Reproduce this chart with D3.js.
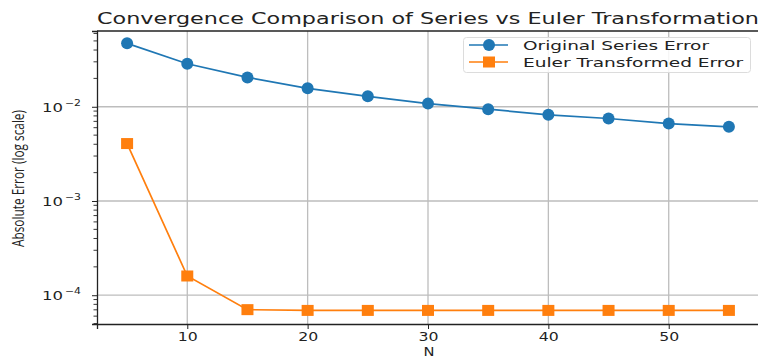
<!DOCTYPE html>
<html><head><meta charset="utf-8">
<script src="https://cdn.jsdelivr.net/npm/d3@7"></script>
<style>body{margin:0;background:#fff}svg{display:block}</style>
</head><body>
<svg id="c" width="758" height="359"></svg>
<script>
const N = [5, 10, 15, 20, 25, 30, 35, 40, 45, 50, 55];
const originalError = [0.0471, 0.0286, 0.0205, 0.0157, 0.0129, 0.0108, 0.00943, 0.00822, 0.00751, 0.00664, 0.00612];
const eulerError = [0.00407, 0.000160, 0.0000703, 0.0000690, 0.0000690, 0.0000690, 0.0000690, 0.0000690, 0.0000690, 0.0000690, 0.0000690];
const xTicks = [10, 20, 30, 40, 50];
const yTicks = [1e-4, 1e-3, 1e-2];
const yTickExp = ["\u22124", "\u22123", "\u22122"];
const seriesNames = ["Original Series Error", "Euler Transformed Error"];
const colors = ["#1f77b4", "#ff7f0e"];

const svg = d3.select("#c");
const L = 97, R = 759, T = 31, B = 324;
const x = d3.scaleLinear().domain([2.5, 57.5]).range([L, R]);
const y = d3.scaleLog().domain([4.95e-5, 0.0637]).range([B, T]);

function stretchTo(sel, w) { sel.attr("textLength", w).attr("lengthAdjust", "spacingAndGlyphs"); }

// grid
const g = svg.append("g");
g.selectAll(".gx").data(xTicks).join("line")
  .attr("x1", d => x(d)).attr("x2", d => x(d)).attr("y1", T).attr("y2", B)
  .attr("stroke", "#bdbdbd").attr("stroke-width", 1.3);
g.selectAll(".gy").data(yTicks).join("line")
  .attr("x1", L).attr("x2", R).attr("y1", d => y(d)).attr("y2", d => y(d))
  .attr("stroke", "#bdbdbd").attr("stroke-width", 1.3);

// minor ticks
const minor = [];
for (let e = -5; e <= -2; e++) for (let m = 2; m <= 9; m++) {
  const v = m * Math.pow(10, e);
  if (v >= y.domain()[0] && v <= y.domain()[1]) minor.push(v);
}
svg.append("g").selectAll("line").data(minor).join("line")
  .attr("x1", L - 3.5).attr("x2", L).attr("y1", d => y(d)).attr("y2", d => y(d))
  .attr("stroke", "#222").attr("stroke-width", 0.9);

// axes
const xAxis = svg.append("g").attr("transform", `translate(0,${B})`)
  .call(d3.axisBottom(x).tickValues(xTicks).tickSize(5).tickPadding(4).tickFormat(d3.format("d")));
xAxis.select(".domain").attr("stroke", "#222").attr("stroke-width", 1.3);
xAxis.selectAll(".tick line").attr("stroke", "#222");
xAxis.selectAll(".tick text").attr("font-family", "DejaVu Sans").attr("font-size", 11.5).attr("fill", "#222")
  .call(stretchTo, 20);

const yAxis = svg.append("g").attr("transform", `translate(${L},0)`)
  .call(d3.axisLeft(y).tickValues(yTicks).tickSize(5).tickFormat(""));
yAxis.select(".domain").attr("stroke", "#222").attr("stroke-width", 1.3);
yAxis.selectAll(".tick line").attr("stroke", "#222");
const yl = svg.append("g").selectAll("g").data(yTicks).join("g")
  .attr("transform", d => `translate(0,${y(d)})`);
yl.append("text").attr("x", 42).attr("y", 5).attr("font-family", "DejaVu Sans").attr("font-size", 11.5)
  .attr("fill", "#222").text("10").call(stretchTo, 21);
yl.append("text").attr("x", 65).attr("y", -1).attr("font-family", "DejaVu Sans").attr("font-size", 8.5)
  .attr("fill", "#222").text((d, i) => yTickExp[i]).call(stretchTo, 16);

// top spine
svg.append("line").attr("x1", L).attr("x2", R).attr("y1", T).attr("y2", T).attr("stroke", "#222").attr("stroke-width", 1.3);

// series
const datasets = [originalError, eulerError];
const line = d3.line().x((d, i) => x(N[i])).y(d => y(d));
datasets.forEach((ds, k) => {
  svg.append("path").datum(ds).attr("d", line).attr("fill", "none")
    .attr("stroke", colors[k]).attr("stroke-width", 1.7);
});
svg.append("g").selectAll("circle").data(originalError).join("circle")
  .attr("cx", (d, i) => x(N[i])).attr("cy", d => y(d)).attr("r", 6).attr("fill", colors[0]);
svg.append("g").selectAll("rect").data(eulerError).join("rect")
  .attr("x", (d, i) => x(N[i]) - 6).attr("y", d => y(d) - 5.5).attr("width", 12).attr("height", 11).attr("fill", colors[1]);

// title & labels
svg.append("text").attr("x", 428).attr("y", 24).attr("text-anchor", "middle")
  .attr("font-family", "DejaVu Sans").attr("font-size", 15).attr("fill", "#222")
  .text("Convergence Comparison of Series vs Euler Transformation").call(stretchTo, 662);
svg.append("text").attr("x", 429).attr("y", 356).attr("text-anchor", "middle")
  .attr("font-family", "DejaVu Sans").attr("font-size", 11.5).attr("fill", "#222").text("N").call(stretchTo, 11);
svg.append("text").attr("transform", "translate(24,178.5) rotate(-90)").attr("text-anchor", "middle")
  .attr("font-family", "Open Sans").attr("font-size", 15.5).attr("fill", "#222")
  .text("Absolute Error (log scale)").call(stretchTo, 137);

// legend
const lg = svg.append("g");
lg.append("rect").attr("x", 463.5).attr("y", 37.5).attr("width", 287).attr("height", 35).attr("rx", 3)
  .attr("fill", "#fff").attr("fill-opacity", 0.85).attr("stroke", "#dcdcdc");
const rowsY = [45, 62];
const widths = [186, 220];
seriesNames.forEach((name, k) => {
  lg.append("line").attr("x1", 469).attr("x2", 508).attr("y1", rowsY[k]).attr("y2", rowsY[k])
    .attr("stroke", colors[k]).attr("stroke-width", 1.7);
  if (k === 0) lg.append("circle").attr("cx", 489).attr("cy", rowsY[k]).attr("r", 6).attr("fill", colors[k]);
  else lg.append("rect").attr("x", 483).attr("y", rowsY[k] - 5.5).attr("width", 12).attr("height", 11).attr("fill", colors[k]);
  lg.append("text").attr("x", 523).attr("y", rowsY[k] + 4.5).attr("font-family", "DejaVu Sans")
    .attr("font-size", 12).attr("fill", "#222").text(name).call(stretchTo, widths[k]);
});
</script>
</body></html>
